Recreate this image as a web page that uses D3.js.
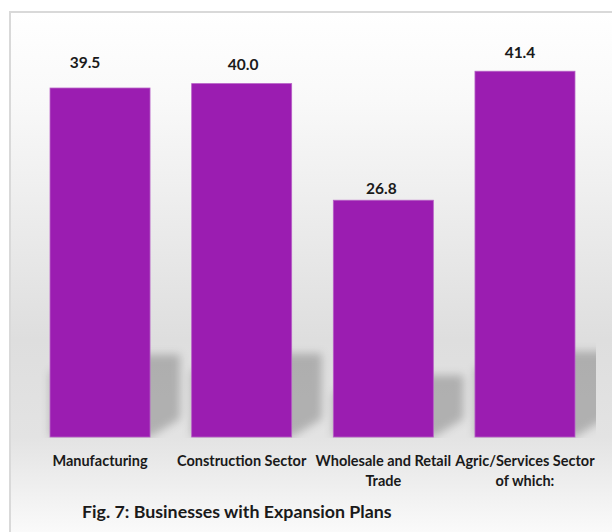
<!DOCTYPE html>
<html>
<head>
<meta charset="utf-8">
<script src="https://cdn.jsdelivr.net/npm/d3@7"></script>
<style>
  html, body { margin: 0; padding: 0; background: #ffffff; }
  svg { display: block; }
  text { font-family: Lato, "Open Sans", "DejaVu Sans", sans-serif; font-weight: bold; fill: #1a1a1a; }
</style>
</head>
<body>
<script>
// ---- data ----
const categories = ["Manufacturing", "Construction Sector", "Wholesale and Retail Trade", "Agric/Services Sector of which:"];
const categoryLines = [["Manufacturing"], ["Construction Sector"], ["Wholesale and Retail", "Trade"], ["Agric/Services Sector", "of which:"]];
const values = [39.5, 40.0, 26.8, 41.4];
const valueLabels = ["39.5", "40.0", "26.8", "41.4"];
const caption = "Fig. 7: Businesses with Expansion Plans";

// ---- layout (not data) ----
const W = 612, H = 532;
const labelNudgeX = [-15, 1.5, -2, -5];
const labelNudgeY = [-20, -13.6, -6, -13];

const svg = d3.select("body").append("svg").attr("width", W).attr("height", H);
const defs = svg.append("defs");

const grad = defs.append("linearGradient").attr("id", "bg")
  .attr("gradientUnits", "userSpaceOnUse").attr("x1", 0).attr("y1", 12).attr("x2", 0).attr("y2", 532);
[[12, "#ffffff"], [100, "#f9f9f9"], [190, "#efefef"], [340, "#dedede"], [437, "#e3e3e3"], [532, "#fafafa"]]
  .forEach(([y, c]) => grad.append("stop").attr("offset", ((y - 12) / 520)).attr("stop-color", c));

const blur = defs.append("filter").attr("id", "blur").attr("x", "-50%").attr("y", "-50%").attr("width", "200%").attr("height", "200%");
blur.append("feGaussianBlur").attr("stdDeviation", 4.5);

defs.append("clipPath").attr("id", "plotclip").append("rect")
  .attr("x", 29).attr("y", 20).attr("width", 567).attr("height", 418);

// background + border
svg.append("rect").attr("x", 10).attr("y", 12).attr("width", W).attr("height", H)
  .attr("fill", "url(#bg)").attr("stroke", "#d9d9d9").attr("stroke-width", 2);

const x = d3.scaleBand().domain(categories).range([29.2, 595.8]).paddingInner(0.294).paddingOuter(0.147);
const y = d3.scaleLinear().domain([0, 45]).range([437, 437 - 45 * 8.835]);

const data = categories.map((c, i) => ({ c, v: values[i], i }));

// shadows
const dx = 30, dy = 18;
svg.append("g").attr("clip-path", "url(#plotclip)").append("g").attr("filter", "url(#blur)")
  .selectAll("path").data(data).join("path")
  .attr("d", d => {
    const x0 = x(d.c), x1 = x(d.c) + x.bandwidth(), B = y(0);
    const hs = 0.185 * (y(0) - y(d.v));
    return `M${x0},${B}L${x1},${B}L${x1 + dx},${B - dy}L${x1 + dx},${B - hs - dy}L${x0 + dx},${B - hs - dy}L${x0},${B - hs}Z`;
  })
  .attr("fill", "#000").attr("fill-opacity", 0.22);

// bars
svg.append("g").selectAll("rect").data(data).join("rect")
  .attr("x", d => x(d.c)).attr("y", d => y(d.v))
  .attr("width", x.bandwidth()).attr("height", d => y(0) - y(d.v))
  .attr("fill", "#9b1db1").attr("stroke", "#b760c6").attr("stroke-width", 0.8);

// value labels
svg.append("g").selectAll("text").data(data).join("text")
  .attr("x", d => x(d.c) + x.bandwidth() / 2 + labelNudgeX[d.i])
  .attr("y", d => y(d.v) + labelNudgeY[d.i])
  .attr("text-anchor", "middle").attr("font-size", 15.5)
  .text(d => valueLabels[d.i]);

// category labels
const cl = svg.append("g").selectAll("text").data(data).join("text")
  .attr("text-anchor", "middle").attr("font-size", 14.5)
  .attr("y", 466);
cl.selectAll("tspan").data(d => categoryLines[d.i].map(t => ({ t, cx: x(d.c) + x.bandwidth() / 2 })))
  .join("tspan")
  .attr("x", d => d.cx)
  .attr("dy", (d, j) => j === 0 ? 0 : 20)
  .text(d => d.t);

// caption
svg.append("text").attr("x", 82).attr("y", 518).attr("font-size", 17.8).text(caption);
</script>
</body>
</html>
